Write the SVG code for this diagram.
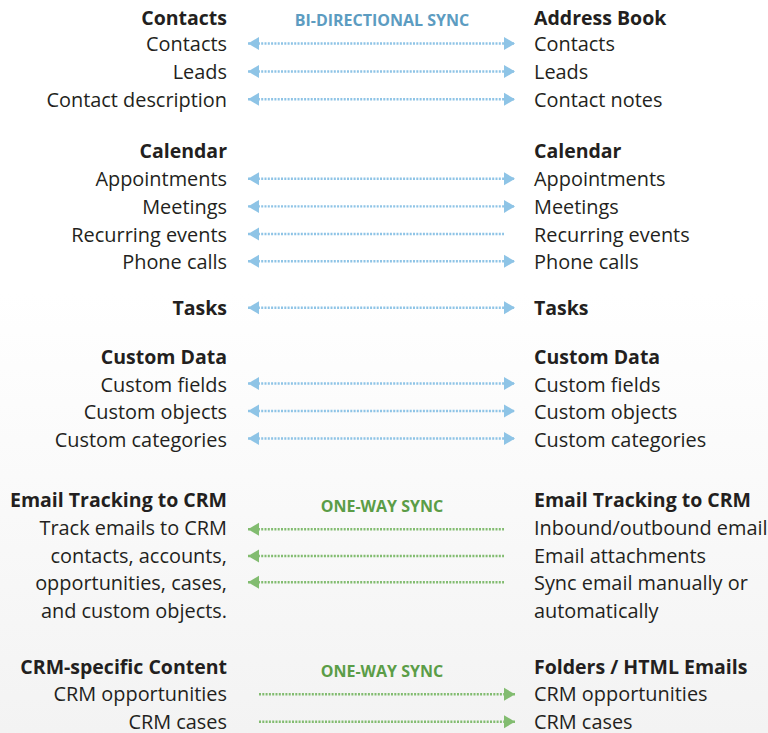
<svg xmlns="http://www.w3.org/2000/svg" width="768" height="733" viewBox="0 0 768 733">
<defs>
<linearGradient id="bg" x1="0" y1="0" x2="0" y2="1">
<stop offset="0" stop-color="#ffffff"/>
<stop offset="0.4" stop-color="#ffffff"/>
<stop offset="1" stop-color="#f3f3f3"/>
</linearGradient>
<marker id="bh" markerUnits="userSpaceOnUse" markerWidth="12" markerHeight="14" refX="11" refY="6.5" orient="auto-start-reverse" viewBox="0 0 12 13">
<polygon points="0,0 11,6.5 0,13" fill="#8ec4e6"/>
</marker>
<marker id="gh" markerUnits="userSpaceOnUse" markerWidth="12" markerHeight="14" refX="11" refY="6.5" orient="auto-start-reverse" viewBox="0 0 12 13">
<polygon points="0,0 11,6.5 0,13" fill="#82bc70"/>
</marker>
<style>
text{font-family:"Open Sans","Noto Sans","Liberation Sans",sans-serif;font-size:19.9px;fill:#231f20}
.h{font-weight:bold;font-size:19.5px}
.l{text-anchor:end}
.s{font-weight:bold;font-size:16px;text-anchor:middle}
.sb{fill:#5c9cc1}
.sg{fill:#5b9d47}
.b{stroke:#8ec4e6;stroke-width:2.4;stroke-dasharray:2 1.3;fill:none}
.g{stroke:#82bc70;stroke-width:2.4;stroke-dasharray:2 1.3;fill:none}
.bb{marker-start:url(#bh);marker-end:url(#bh)}
.bl{marker-start:url(#bh)}
.gl{marker-start:url(#gh)}
.gr{marker-end:url(#gh)}
</style>
</defs>
<rect width="768" height="733" fill="url(#bg)"/>

<g id="labels">
<text class="s sb" x="382" y="26">BI-DIRECTIONAL SYNC</text>
<text class="s sg" x="382" y="512">ONE-WAY SYNC</text>
<text class="s sg" x="382" y="677">ONE-WAY SYNC</text>
</g>

<g id="left-contacts">
<text class="h l" x="227" y="25">Contacts</text>
<text class="l" x="227" y="51">Contacts</text>
<text class="l" x="227" y="79">Leads</text>
<text class="l" x="227" y="107">Contact description</text>
</g>
<g id="right-addressbook">
<text class="h" x="534" y="25">Address Book</text>
<text x="534" y="51">Contacts</text>
<text x="534" y="79">Leads</text>
<text x="534" y="107">Contact notes</text>
</g>

<g id="left-calendar">
<text class="h l" x="227" y="158">Calendar</text>
<text class="l" x="227" y="186">Appointments</text>
<text class="l" x="227" y="214">Meetings</text>
<text class="l" x="227" y="241.5">Recurring events</text>
<text class="l" x="227" y="269">Phone calls</text>
</g>
<g id="right-calendar">
<text class="h" x="534" y="158">Calendar</text>
<text x="534" y="186">Appointments</text>
<text x="534" y="214">Meetings</text>
<text x="534" y="241.5">Recurring events</text>
<text x="534" y="269">Phone calls</text>
</g>

<g id="left-tasks"><text class="h l" x="227" y="314.5">Tasks</text></g>
<g id="right-tasks"><text class="h" x="534" y="314.5">Tasks</text></g>

<g id="left-custom">
<text class="h l" x="227" y="363.5">Custom Data</text>
<text class="l" x="227" y="391.5">Custom fields</text>
<text class="l" x="227" y="419">Custom objects</text>
<text class="l" x="227" y="446.5">Custom categories</text>
</g>
<g id="right-custom">
<text class="h" x="534" y="363.5">Custom Data</text>
<text x="534" y="391.5">Custom fields</text>
<text x="534" y="419">Custom objects</text>
<text x="534" y="446.5">Custom categories</text>
</g>

<g id="left-email">
<text class="h l" x="227" y="506.5">Email Tracking to CRM</text>
<text class="l" x="227" y="535">Track emails to CRM</text>
<text class="l" x="227" y="562.5">contacts, accounts,</text>
<text class="l" x="227" y="590">opportunities, cases,</text>
<text class="l" x="227" y="617.5">and custom objects.</text>
</g>
<g id="right-email">
<text class="h" x="534" y="506.5">Email Tracking to CRM</text>
<text x="534" y="535">Inbound/outbound email</text>
<text x="534" y="562.5">Email attachments</text>
<text x="534" y="590">Sync email manually or</text>
<text x="534" y="617.5">automatically</text>
</g>

<g id="left-crm">
<text class="h l" x="227" y="673.5">CRM-specific Content</text>
<text class="l" x="227" y="701">CRM opportunities</text>
<text class="l" x="227" y="728.5">CRM cases</text>
</g>
<g id="right-folders">
<text class="h" x="534" y="673.5">Folders / HTML Emails</text>
<text x="534" y="701">CRM opportunities</text>
<text x="534" y="728.5">CRM cases</text>
</g>

<g id="connectors">
<line class="b bb" x1="248" y1="43.5" x2="515" y2="43.5"/>
<line class="b bb" x1="248" y1="71.5" x2="515" y2="71.5"/>
<line class="b bb" x1="248" y1="99.3" x2="515" y2="99.3"/>
<line class="b bb" x1="248" y1="178.8" x2="515" y2="178.8"/>
<line class="b bb" x1="248" y1="206.4" x2="515" y2="206.4"/>
<line class="b bl" x1="248" y1="234" x2="504" y2="234"/>
<line class="b bb" x1="248" y1="261.3" x2="515" y2="261.3"/>
<line class="b bb" x1="248" y1="307.7" x2="515" y2="307.7"/>
<line class="b bb" x1="248" y1="383.5" x2="515" y2="383.5"/>
<line class="b bb" x1="248" y1="411" x2="515" y2="411"/>
<line class="b bb" x1="248" y1="438.5" x2="515" y2="438.5"/>
<line class="g gl" x1="248" y1="529.3" x2="504" y2="529.3"/>
<line class="g gl" x1="248" y1="556" x2="504" y2="556"/>
<line class="g gl" x1="248" y1="582.3" x2="504" y2="582.3"/>
<line class="g gr" x1="259" y1="694.3" x2="515" y2="694.3"/>
<line class="g gr" x1="259" y1="721.7" x2="515" y2="721.7"/>
</g>
</svg>
